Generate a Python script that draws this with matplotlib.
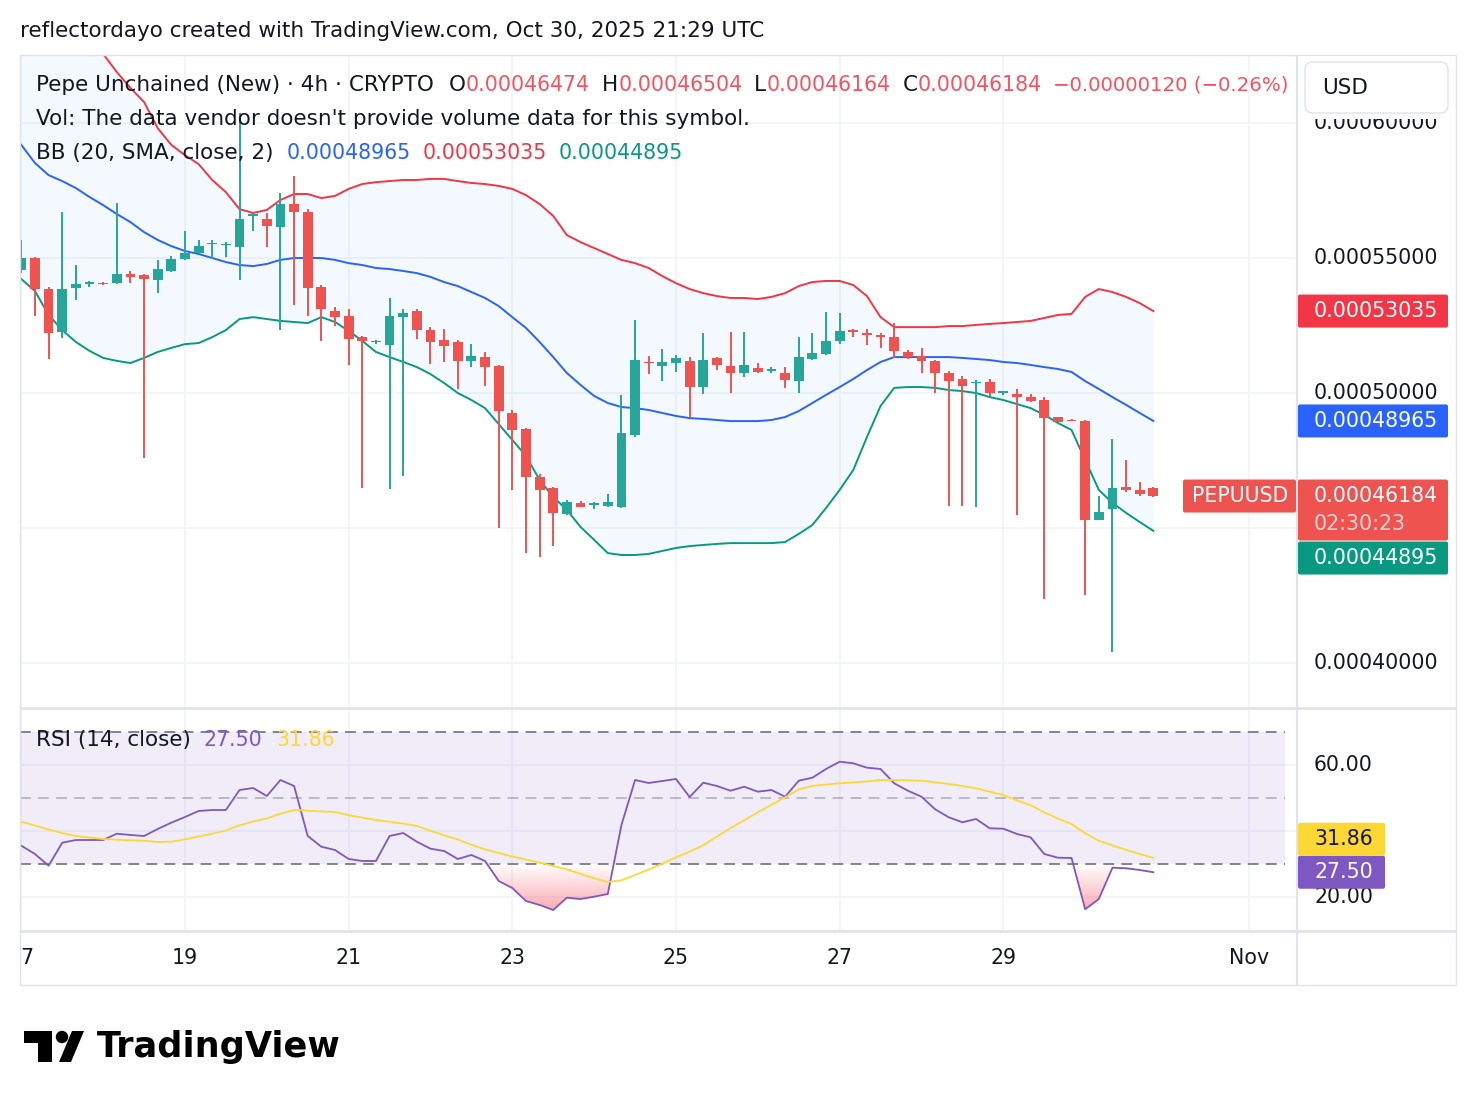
#!/usr/bin/env python3
"""
plot.py

Pepe Unchained (New) 4h chart in TradingView style: candles with
Bollinger Bands (20, SMA, close, 2) on top, RSI (14) with its MA below.
Values were read off a screenshot (Oct 17 - Oct 30, 2025, 4h bars).
"""

import numpy as np
import matplotlib
matplotlib.use("Agg")
import matplotlib.pyplot as plt
from matplotlib.colors import to_rgb
from matplotlib.patches import Rectangle, FancyBboxPatch, Circle, Polygon
from matplotlib.path import Path

# ---------------------------------------------------------------- data
# 4h bars, bar 0 = Oct 17 00:00 UTC, last bar = Oct 30 20:00 UTC
opens = [
    0.0005456, 0.0005500, 0.0005385, 0.0005226, 0.0005389, 0.0005404, 0.0005407, 0.0005407, 0.0005441, 0.0005437,
    0.0005419, 0.0005452, 0.0005496, 0.0005519, 0.0005552, 0.0005548, 0.0005541, 0.0005656, 0.0005644, 0.0005615,
    0.0005700, 0.0005670, 0.0005393, 0.0005304, 0.0005285, 0.0005207, 0.0005189, 0.0005178, 0.0005281, 0.0005304,
    0.0005233, 0.0005196, 0.0005189, 0.0005119, 0.0005133, 0.0005100, 0.0004926, 0.0004867, 0.0004689, 0.0004648,
    0.0004552, 0.0004593, 0.0004585, 0.0004581, 0.0004578, 0.0004844, 0.0005115, 0.0005100, 0.0005111, 0.0005119,
    0.0005022, 0.0005130, 0.0005100, 0.0005074, 0.0005093, 0.0005081, 0.0005074, 0.0005044, 0.0005126, 0.0005144,
    0.0005193, 0.0005233, 0.0005222, 0.0005215, 0.0005207, 0.0005152, 0.0005137, 0.0005119, 0.0005074, 0.0005052,
    0.0005037, 0.0005041, 0.0005000, 0.0004996, 0.0004985, 0.0004974, 0.0004911, 0.0004900, 0.0004896, 0.0004530,
    0.0004570, 0.0004652, 0.0004641, 0.00046474,
]
highs = [
    0.0005567, 0.0005504, 0.0005393, 0.0005670, 0.0005474, 0.0005415, 0.0005411, 0.0005704, 0.0005452, 0.0005441,
    0.0005493, 0.0005507, 0.0005600, 0.0005567, 0.0005567, 0.0005559, 0.0006037, 0.0005667, 0.0005667, 0.0005741,
    0.0005804, 0.0005681, 0.0005400, 0.0005319, 0.0005311, 0.0005211, 0.0005196, 0.0005352, 0.0005311, 0.0005311,
    0.0005244, 0.0005237, 0.0005196, 0.0005181, 0.0005152, 0.0005104, 0.0004937, 0.0004870, 0.0004700, 0.0004652,
    0.0004604, 0.0004600, 0.0004596, 0.0004626, 0.0004993, 0.0005270, 0.0005137, 0.0005163, 0.0005141, 0.0005133,
    0.0005222, 0.0005133, 0.0005226, 0.0005226, 0.0005111, 0.0005096, 0.0005096, 0.0005207, 0.0005222, 0.0005300,
    0.0005296, 0.0005237, 0.0005237, 0.0005222, 0.0005259, 0.0005159, 0.0005167, 0.0005122, 0.0005081, 0.0005063,
    0.0005048, 0.0005052, 0.0005007, 0.0005015, 0.0004996, 0.0004985, 0.0004911, 0.0004904, 0.0004900, 0.0004619,
    0.0004830, 0.0004752, 0.0004670, 0.00046504,
]
lows = [
    0.0005444, 0.0005285, 0.0005126, 0.0005204, 0.0005344, 0.0005393, 0.0005400, 0.0005404, 0.0005407, 0.0004759,
    0.0005370, 0.0005448, 0.0005493, 0.0005515, 0.0005496, 0.0005504, 0.0005419, 0.0005600, 0.0005541, 0.0005233,
    0.0005326, 0.0005285, 0.0005193, 0.0005248, 0.0005104, 0.0004648, 0.0005181, 0.0004644, 0.0004693, 0.0005200,
    0.0005107, 0.0005115, 0.0005015, 0.0005096, 0.0005026, 0.0004500, 0.0004641, 0.0004407, 0.0004393, 0.0004433,
    0.0004548, 0.0004578, 0.0004570, 0.0004578, 0.0004574, 0.0004837, 0.0005070, 0.0005044, 0.0005078, 0.0004907,
    0.0004996, 0.0005085, 0.0005000, 0.0005059, 0.0005074, 0.0005074, 0.0005019, 0.0005000, 0.0005122, 0.0005141,
    0.0005181, 0.0005207, 0.0005178, 0.0005167, 0.0005130, 0.0005126, 0.0005074, 0.0005000, 0.0004581, 0.0004581,
    0.0004578, 0.0004989, 0.0004993, 0.0004548, 0.0004967, 0.0004237, 0.0004893, 0.0004896, 0.0004252, 0.0004530,
    0.0004041, 0.0004633, 0.0004619, 0.00046164,
]
closes = [
    0.0005500, 0.0005385, 0.0005222, 0.0005385, 0.0005404, 0.0005411, 0.0005404, 0.0005441, 0.0005430, 0.0005422,
    0.0005459, 0.0005496, 0.0005519, 0.0005544, 0.0005556, 0.0005552, 0.0005644, 0.0005663, 0.0005619, 0.0005700,
    0.0005670, 0.0005389, 0.0005311, 0.0005281, 0.0005200, 0.0005193, 0.0005193, 0.0005285, 0.0005296, 0.0005233,
    0.0005189, 0.0005174, 0.0005119, 0.0005137, 0.0005096, 0.0004933, 0.0004863, 0.0004689, 0.0004641, 0.0004556,
    0.0004596, 0.0004578, 0.0004593, 0.0004596, 0.0004852, 0.0005122, 0.0005111, 0.0005115, 0.0005130, 0.0005022,
    0.0005122, 0.0005104, 0.0005074, 0.0005104, 0.0005078, 0.0005089, 0.0005048, 0.0005133, 0.0005148, 0.0005193,
    0.0005230, 0.0005226, 0.0005215, 0.0005207, 0.0005156, 0.0005133, 0.0005119, 0.0005074, 0.0005044, 0.0005026,
    0.0005041, 0.0005000, 0.0005007, 0.0004985, 0.0004970, 0.0004907, 0.0004893, 0.0004896, 0.0004530, 0.0004559,
    0.0004648, 0.0004641, 0.0004626, 0.00046184,
]

# Bollinger Bands (20, SMA, close, 2) as drawn on the chart
bb_upper = [
    0.0006419, 0.0006389, 0.0006359, 0.0006330, 0.0006300, 0.0006278, 0.0006256, 0.0006189, 0.0006130, 0.0006078,
    0.0005981, 0.0005919, 0.0005881, 0.0005848, 0.0005789, 0.0005744, 0.0005681, 0.0005667, 0.0005678, 0.0005715,
    0.0005737, 0.0005737, 0.0005722, 0.0005730, 0.0005756, 0.0005774, 0.0005781, 0.0005785, 0.0005789, 0.0005789,
    0.0005793, 0.0005793, 0.0005785, 0.0005778, 0.0005774, 0.0005767, 0.0005756, 0.0005733, 0.0005700, 0.0005656,
    0.0005585, 0.0005559, 0.0005537, 0.0005515, 0.0005493, 0.0005481, 0.0005463, 0.0005433, 0.0005407, 0.0005385,
    0.0005370, 0.0005359, 0.0005352, 0.0005352, 0.0005348, 0.0005356, 0.0005370, 0.0005396, 0.0005411, 0.0005415,
    0.0005415, 0.0005400, 0.0005359, 0.0005281, 0.0005244, 0.0005244, 0.0005244, 0.0005244, 0.0005248, 0.0005248,
    0.0005252, 0.0005256, 0.0005259, 0.0005263, 0.0005267, 0.0005278, 0.0005289, 0.0005293, 0.0005356, 0.0005385,
    0.0005374, 0.0005356, 0.0005333, 0.00053035,
]
bb_basis = [
    0.0005919, 0.0005852, 0.0005807, 0.0005785, 0.0005759, 0.0005726, 0.0005696, 0.0005663, 0.0005633, 0.0005596,
    0.0005567, 0.0005544, 0.0005526, 0.0005515, 0.0005500, 0.0005485, 0.0005474, 0.0005470, 0.0005478, 0.0005493,
    0.0005500, 0.0005500, 0.0005500, 0.0005493, 0.0005481, 0.0005474, 0.0005463, 0.0005459, 0.0005452, 0.0005444,
    0.0005430, 0.0005411, 0.0005396, 0.0005374, 0.0005352, 0.0005322, 0.0005281, 0.0005241, 0.0005189, 0.0005133,
    0.0005074, 0.0005030, 0.0004989, 0.0004963, 0.0004948, 0.0004944, 0.0004937, 0.0004926, 0.0004915, 0.0004907,
    0.0004904, 0.0004900, 0.0004896, 0.0004896, 0.0004896, 0.0004900, 0.0004911, 0.0004933, 0.0004963, 0.0004993,
    0.0005022, 0.0005052, 0.0005085, 0.0005115, 0.0005133, 0.0005133, 0.0005133, 0.0005133, 0.0005133, 0.0005130,
    0.0005126, 0.0005122, 0.0005115, 0.0005111, 0.0005104, 0.0005096, 0.0005089, 0.0005078, 0.0005044, 0.0005015,
    0.0004985, 0.0004956, 0.0004926, 0.00048965,
]
bb_lower = [
    0.0005422, 0.0005378, 0.0005289, 0.0005233, 0.0005189, 0.0005156, 0.0005130, 0.0005119, 0.0005111, 0.0005130,
    0.0005152, 0.0005167, 0.0005181, 0.0005185, 0.0005207, 0.0005233, 0.0005274, 0.0005281, 0.0005274, 0.0005267,
    0.0005263, 0.0005259, 0.0005281, 0.0005263, 0.0005230, 0.0005193, 0.0005152, 0.0005133, 0.0005115, 0.0005096,
    0.0005070, 0.0005037, 0.0005000, 0.0004974, 0.0004944, 0.0004885, 0.0004826, 0.0004767, 0.0004678, 0.0004615,
    0.0004567, 0.0004504, 0.0004456, 0.0004407, 0.0004400, 0.0004400, 0.0004404, 0.0004415, 0.0004426, 0.0004433,
    0.0004437, 0.0004441, 0.0004444, 0.0004444, 0.0004444, 0.0004444, 0.0004448, 0.0004478, 0.0004511, 0.0004574,
    0.0004641, 0.0004715, 0.0004837, 0.0004952, 0.0005019, 0.0005022, 0.0005022, 0.0005019, 0.0005011, 0.0005007,
    0.0005000, 0.0004985, 0.0004974, 0.0004959, 0.0004944, 0.0004919, 0.0004889, 0.0004863, 0.0004752, 0.0004641,
    0.0004593, 0.0004556, 0.0004522, 0.00044895,
]

# RSI (14, close) and its moving average
rsi = [
    35.55, 33.03, 29.48, 36.45, 37.27, 37.27, 37.27, 39.18, 38.79, 38.48,
    40.61, 42.52, 44.24, 46.06, 46.36, 46.36, 52.42, 53.03, 50.61, 55.45,
    53.64, 38.48, 35.24, 34.24, 31.52, 30.91, 30.91, 38.48, 39.39, 36.76,
    34.64, 33.94, 31.52, 32.73, 30.91, 24.85, 22.73, 18.79, 17.58, 16.06,
    19.79, 19.39, 20.09, 20.91, 41.82, 55.45, 54.55, 55.15, 55.76, 50.30,
    54.64, 53.64, 52.21, 53.42, 51.91, 52.42, 50.39, 55.24, 56.15, 58.79,
    61.00, 60.52, 59.18, 58.79, 54.45, 52.21, 50.39, 46.58, 44.15, 42.64,
    43.64, 40.82, 40.70, 39.09, 38.09, 33.03, 31.91, 31.82, 16.27, 19.39,
    28.88, 28.70, 28.18, 27.50,
]
rsi_ma = [
    42.82, 41.67, 40.45, 39.39, 38.48, 38.03, 37.58, 37.33, 37.18, 37.06,
    36.67, 36.76, 37.48, 38.33, 39.18, 40.15, 41.73, 42.88, 43.79, 45.27,
    46.36, 46.15, 45.94, 45.76, 44.79, 44.06, 43.33, 42.82, 42.21, 41.52,
    40.09, 38.70, 37.45, 35.82, 34.42, 33.33, 32.27, 31.36, 30.42, 29.39,
    28.39, 27.03, 25.67, 24.55, 25.06, 26.67, 28.33, 30.12, 32.03, 33.73,
    35.70, 38.27, 40.91, 43.24, 45.70, 47.94, 50.21, 52.64, 53.64, 54.09,
    54.48, 54.73, 55.00, 55.45, 55.45, 55.36, 55.24, 54.76, 54.24, 53.64,
    52.94, 51.91, 50.91, 49.30, 47.82, 45.67, 43.76, 42.12, 39.30, 37.06,
    35.64, 34.30, 33.03, 31.86,
]

date_labels = ["17", "19", "21", "23", "25", "27", "29", "Nov"]
date_bars = [0, 12, 24, 36, 48, 60, 72, 90]        # bar index at 00:00 of each day
price_ticks = [0.00040, 0.00045, 0.00050, 0.00055, 0.00060]
shown_price_ticks = [0.00040, 0.00050, 0.00055, 0.00060]   # 0.00045 sits under the tags
rsi_ticks = [20, 40, 60]
shown_rsi_ticks = [20, 60]
RSI_HI, RSI_MID, RSI_LO = 70, 50, 30

HEADER = "reflectordayo created with TradingView.com, Oct 30, 2025 21:29 UTC"
SYMBOL = "Pepe Unchained (New) · 4h · CRYPTO"
CHANGE = "−0.00000120 (−0.26%)"
VOL_NOTE = "Vol: The data vendor doesn't provide volume data for this symbol."
COUNTDOWN = "02:30:23"

# ---------------------------------------------------------------- style
UP, DOWN = "#26A69A", "#EF5350"
BASIS_C, UPPER_C, LOWER_C = "#2962FF", "#F23645", "#089981"
RSI_C, MA_C = "#7E57C2", "#FDD835"
TXT, GRID, BORDER = "#131722", "#F0F3FA", "#E0E3EB"
HDR_RED = "#F7525F"
FS_TXT = 15.5     # words
FS_NUM = 14.8     # numbers

W, H = 1476, 1106
XLIM = (-0.095, 93.53)
PRICE_YLIM = (0.00038333, 0.00062519)
RSI_YLIM = (10.0, 77.27)

plt.rcParams["font.family"] = ["DejaVu Sans"]


def fig_box(x0, y0, x1, y1):
    """pixel box (top-left origin) -> figure fraction rect"""
    return [x0 / W, 1 - y1 / H, (x1 - x0) / W, (y1 - y0) / H]


def style_panel(ax, ylim, yticks):
    ax.set_xlim(XLIM)
    ax.set_ylim(ylim)
    ax.set_xticks(date_bars)
    ax.set_yticks(yticks)
    ax.grid(True, color=GRID, lw=1.2)
    ax.set_axisbelow(True)
    ax.tick_params(left=False, bottom=False, labelleft=False, labelbottom=False)
    for s in ax.spines.values():
        s.set_visible(False)


fig = plt.figure(figsize=(W / 100, H / 100), dpi=100)
fig.patch.set_facecolor("white")

o, h, l, c = (np.array(a) for a in (opens, highs, lows, closes))
rsi_a, ma_a = np.array(rsi), np.array(rsi_ma)
idx = np.arange(len(c))

# ---------------------------------------------------------------- price panel
ax = fig.add_axes(fig_box(20, 55, 1297, 708))
style_panel(ax, PRICE_YLIM, price_ticks)

ax.fill_between(idx, bb_lower, bb_upper, color="#2196F3", alpha=0.05, lw=0, zorder=1)
ax.plot(idx, bb_basis, color=BASIS_C, lw=1.4, zorder=2)
ax.plot(idx, bb_upper, color=UPPER_C, lw=1.4, zorder=2)
ax.plot(idx, bb_lower, color=LOWER_C, lw=1.4, zorder=2)

colors = np.where(c >= o, UP, DOWN)
ax.vlines(idx, l, h, colors=colors, lw=1.4, zorder=3)
mid = (o + c) / 2
body = np.maximum(np.abs(c - o), 5.5e-7)
ax.bar(idx, body, bottom=mid - body / 2, width=0.72, color=colors, lw=0, zorder=4)

# ---------------------------------------------------------------- RSI panel
ax_r = fig.add_axes(fig_box(20, 708, 1297, 930))
style_panel(ax_r, RSI_YLIM, rsi_ticks)
band_end = 92.65
ax_r.fill_between([XLIM[0], band_end], RSI_LO, RSI_HI, color=RSI_C, alpha=0.1, lw=0, zorder=1)
ax_r.hlines([RSI_HI, RSI_LO], XLIM[0], band_end, colors="#787B86", lw=1.3,
            linestyles=(0, (6, 4)), zorder=2)
ax_r.hlines(RSI_MID, XLIM[0], band_end, colors="#787B86", alpha=0.5, lw=1.3,
            linestyles=(0, (6, 4)), zorder=2)

# oversold gradient fill under 30
region = ax_r.fill_between(idx, rsi_a, RSI_LO, where=rsi_a < RSI_LO, interpolate=True,
                           facecolor="none", edgecolor="none")
clip = Path.make_compound_path(*region.get_paths())
grad = np.zeros((100, 2, 4))
grad[..., :3] = to_rgb("#F23645")
grad[..., 3] = np.linspace(0.6, 0.0, 100)[:, None]
im = ax_r.imshow(grad, extent=(XLIM[0], XLIM[1], RSI_YLIM[0], RSI_LO), origin="lower",
                 aspect="auto", interpolation="bilinear", zorder=2)
im.set_clip_path(clip, transform=ax_r.transData)
ax_r.set_xlim(XLIM)
ax_r.set_ylim(RSI_YLIM)

ax_r.plot(idx, rsi_a, color=RSI_C, lw=1.3, zorder=3)
ax_r.plot(idx, ma_a, color=MA_C, lw=1.3, zorder=3)

# ---------------------------------------------------------------- time axis
ax_t = fig.add_axes(fig_box(20, 931, 1297, 985))
ax_t.set_xlim(XLIM)
ax_t.set_ylim(0, 1)
ax_t.axis("off")
for lab, b in zip(date_labels, date_bars):
    ax_t.text(b, 0.5, lab, ha="center", va="center", fontsize=FS_NUM, color=TXT, clip_on=True)

# ---------------------------------------------------------------- overlay (pixel coords)
ov = fig.add_axes([0, 0, 1, 1])
ov.set_xlim(0, W)
ov.set_ylim(H, 0)
ov.axis("off")
ov.patch.set_alpha(0)


def px_y(axis, v):
    return H - axis.transData.transform((0, v))[1]


renderer = fig.canvas.get_renderer()


def text_runs(x, y, runs):
    """draw (text, color, size, gap_after) runs left to right"""
    for txt, col, size, gap in runs:
        t = ov.text(x, y, txt, color=col, fontsize=size, ha="left", va="center")
        x += t.get_window_extent(renderer=renderer).width + gap


# frame lines
for (x0, y0, x1, y1, lw) in [(20, 55, 1456, 55, 1), (20, 985, 1456, 985, 1),
                             (20, 55, 20, 985, 1), (1456, 55, 1456, 985, 1),
                             (1297, 55, 1297, 985, 1.5), (20, 708, 1456, 708, 2),
                             (20, 931, 1456, 931, 2)]:
    ov.plot([x0, x1], [y0, y1], color=BORDER, lw=lw, solid_capstyle="butt")

# price scale labels
for v in shown_price_ticks:
    ov.text(1314, px_y(ax, v), f"{v:.8f}", fontsize=FS_NUM, color=TXT, va="center", ha="left")
for v in shown_rsi_ticks:
    ov.text(1314, px_y(ax_r, v), f"{v:.2f}", fontsize=FS_NUM, color=TXT, va="center", ha="left")

# white strip + currency button at top of the scale
ov.add_patch(Rectangle((1298, 56), 157, 63, facecolor="white", edgecolor="none", zorder=5))
ov.add_patch(FancyBboxPatch((1305, 62), 143, 51, boxstyle="round,pad=0,rounding_size=8",
                            facecolor="white", edgecolor=BORDER, lw=1, zorder=6))
ov.text(1322, 88, "USD", fontsize=FS_TXT, color=TXT, va="center", ha="left", zorder=7)


def scale_tag(yc, hgt, color, lines, x0=1298, x1=1448, text_x=1314):
    ov.add_patch(FancyBboxPatch((x0, yc - 16.5), x1 - x0, hgt,
                                boxstyle="round,pad=0,rounding_size=2",
                                facecolor=color, edgecolor="none", zorder=8))
    for k, (txt, tc) in enumerate(lines):
        ov.text(text_x, yc + 28 * k, txt, fontsize=FS_NUM, color=tc, va="center", ha="left",
                zorder=9)


y_up = px_y(ax, bb_upper[-1])
y_bs = px_y(ax, bb_basis[-1])
y_last = px_y(ax, closes[-1])
scale_tag(y_up, 33, UPPER_C, [(f"{bb_upper[-1]:.8f}", "white")])
scale_tag(y_bs, 33, BASIS_C, [(f"{bb_basis[-1]:.8f}", "white")])
scale_tag(y_last, 61, DOWN, [(f"{closes[-1]:.8f}", "white"), (COUNTDOWN, "#FBD3D5")])
scale_tag(y_last + 62, 33, LOWER_C, [(f"{bb_lower[-1]:.8f}", "white")])
scale_tag(y_last, 33, DOWN, [("PEPUUSD", "white")], x0=1183, x1=1296, text_x=1192)

y_rsi = px_y(ax_r, rsi[-1])
scale_tag(y_rsi, 33, RSI_C, [(f"{rsi[-1]:.2f}", "white")], x1=1385)
scale_tag(y_rsi - 33, 33, MA_C, [(f"{rsi_ma[-1]:.2f}", TXT)], x1=1385)

# header and legends
ov.text(20, 31, HEADER, fontsize=FS_TXT, color=TXT, va="center", ha="left")
text_runs(36, 85, [(SYMBOL, TXT, FS_TXT, 15),
                   ("O", TXT, FS_TXT, 0), (f"{opens[-1]:.8f}", HDR_RED, FS_NUM, 12),
                   ("H", TXT, FS_TXT, 0), (f"{highs[-1]:.8f}", HDR_RED, FS_NUM, 12),
                   ("L", TXT, FS_TXT, 0), (f"{lows[-1]:.8f}", HDR_RED, FS_NUM, 12),
                   ("C", TXT, FS_TXT, 0), (f"{closes[-1]:.8f}", HDR_RED, FS_NUM, 12),
                   (CHANGE, HDR_RED, 14.2, 0)])
ov.text(36, 119, VOL_NOTE, fontsize=FS_TXT, color=TXT, va="center", ha="left")
text_runs(36, 153, [("BB (20, SMA, close, 2)", TXT, FS_TXT, 13),
                    (f"{bb_basis[-1]:.8f}", BASIS_C, FS_NUM, 12),
                    (f"{bb_upper[-1]:.8f}", UPPER_C, FS_NUM, 12),
                    (f"{bb_lower[-1]:.8f}", LOWER_C, FS_NUM, 0)])
text_runs(36, 740, [("RSI (14, close)", TXT, FS_TXT, 13),
                    (f"{rsi[-1]:.2f}", RSI_C, FS_NUM, 14),
                    (f"{rsi_ma[-1]:.2f}", MA_C, FS_NUM, 0)])

# TradingView logo
ov.add_patch(Rectangle((24, 1031), 28, 12, facecolor="black", edgecolor="none"))
ov.add_patch(Rectangle((38, 1031), 14, 31, facecolor="black", edgecolor="none"))
ov.add_patch(Circle((62, 1037), 6.2, facecolor="black", edgecolor="none"))
ov.add_patch(Polygon([(72, 1031), (84, 1031), (71, 1062), (59, 1062)], closed=True,
                     facecolor="black", edgecolor="none"))
ov.text(97, 1047, "TradingView", fontsize=25.3, fontweight="bold", color="black",
        va="center", ha="left")

fig.savefig("out.png", dpi=100)
